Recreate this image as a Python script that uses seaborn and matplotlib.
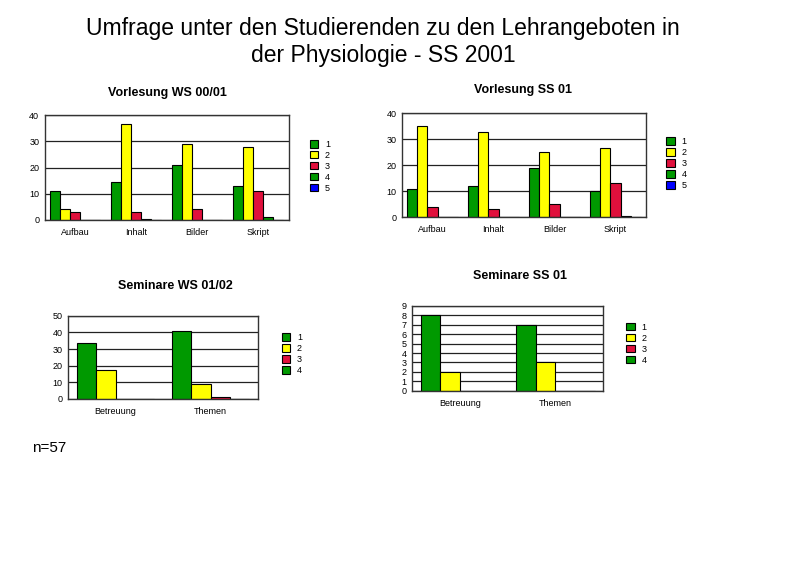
import pandas
import seaborn
from matplotlib import pyplot as plt
from matplotlib.patches import Patch

# Data ------------------------------------------------------------------------------
grades5 = ['1', '2', '3', '4', '5']
grades4 = ['1', '2', '3', '4']

vorl_cats = ['Aufbau', 'Inhalt', 'Bilder', 'Skript']
vorl_ws_1 = [11, 14.5, 21, 13]
vorl_ws_2 = [4, 36.5, 29, 28]
vorl_ws_3 = [3, 3, 4, 11]
vorl_ws_4 = [0, 0.3, 0, 1]
vorl_ws_5 = [0, 0, 0, 0]

vorl_ss_1 = [11, 12, 19, 10]
vorl_ss_2 = [35, 33, 25, 26.5]
vorl_ss_3 = [4, 3, 5, 13]
vorl_ss_4 = [0, 0, 0, 0.3]
vorl_ss_5 = [0, 0, 0, 0]

sem_cats = ['Betreuung', 'Themen']
sem_ws_1 = [33.5, 41]
sem_ws_2 = [17.5, 9]
sem_ws_3 = [0, 1]
sem_ws_4 = [0, 0]

sem_ss_1 = [8, 7]
sem_ss_2 = [2, 3]
sem_ss_3 = [0, 0]
sem_ss_4 = [0, 0]

colors = {'1': '#009900', '2': '#ffff00', '3': '#e0103c', '4': '#009900', '5': '#0000ff'}


def long_df(cats, grades, series):
	rows = []
	for g, vals in zip(grades, series):
		for c, v in zip(cats, vals):
			rows.append({'cat': c, 'grade': g, 'val': v})
	return pandas.DataFrame(rows)


seaborn.set_theme(style='white')
plt.rcParams['font.family'] = ['Liberation Sans', 'DejaVu Sans']
plt.rcParams['text.color'] = 'black'
plt.rcParams['xtick.color'] = 'black'
plt.rcParams['ytick.color'] = 'black'

fig = plt.figure(figsize=(8, 5.64), dpi=100)

fig.text(0.479, 0.9255, 'Umfrage unter den Studierenden zu den Lehrangeboten in\nder Physiologie - SS 2001',
		 ha='center', va='center', fontsize=16.5, linespacing=1.2)
fig.text(0.04, 0.205, 'n=57', fontsize=11, va='center')

panels = [
	([0.056, 0.610, 0.305, 0.186], 'Vorlesung WS 00/01', (0.209, 0.835),
	 long_df(vorl_cats, grades5, [vorl_ws_1, vorl_ws_2, vorl_ws_3, vorl_ws_4, vorl_ws_5]),
	 grades5, vorl_cats, 40, 10, (0.387, 0.752)),
	([0.5025, 0.615, 0.305, 0.184], 'Vorlesung SS 01', (0.654, 0.840),
	 long_df(vorl_cats, grades5, [vorl_ss_1, vorl_ss_2, vorl_ss_3, vorl_ss_4, vorl_ss_5]),
	 grades5, vorl_cats, 40, 10, (0.833, 0.757)),
	([0.085, 0.293, 0.2375, 0.147], 'Seminare WS 01/02', (0.219, 0.493),
	 long_df(sem_cats, grades4, [sem_ws_1, sem_ws_2, sem_ws_3, sem_ws_4]),
	 grades4, sem_cats, 50, 10, (0.352, 0.409)),
	([0.515, 0.307, 0.239, 0.151], 'Seminare SS 01', (0.65, 0.511),
	 long_df(sem_cats, grades4, [sem_ss_1, sem_ss_2, sem_ss_3, sem_ss_4]),
	 grades4, sem_cats, 9, 1, (0.783, 0.428)),
]

for rect, title, tpos, df, grades, cats, ymax, step, lpos in panels:
	ax = fig.add_axes(rect)
	ax.set_axisbelow(True)
	for y in range(0, ymax + 1, step):
		ax.axhline(y, color='#222222', linewidth=0.9, zorder=0)
	seaborn.barplot(data=df, x='cat', y='val', hue='grade', hue_order=grades, order=cats,
					palette=colors, edgecolor='black', linewidth=0.8, width=0.82,
					saturation=1, ax=ax, legend=False)
	ax.set_ylim(0, ymax)
	ax.set_yticks(range(0, ymax + 1, step))
	ax.set_xlabel('')
	ax.set_ylabel('')
	ax.tick_params(axis='y', labelsize=6.5, length=0, pad=4)
	ax.tick_params(axis='x', labelsize=6.5, length=0, pad=6)
	for s in ax.spines.values():
		s.set_color('#333333')
		s.set_linewidth(1)
	fig.text(tpos[0], tpos[1], title, ha='center', va='center', fontsize=9, fontweight='bold')
	handles = [Patch(facecolor=colors[g], edgecolor='black', linewidth=0.8, label=g) for g in grades]
	ax.legend(handles=handles, loc='upper left', bbox_to_anchor=lpos, bbox_transform=fig.transFigure,
			  frameon=False, fontsize=6.5, handlelength=0.9, handleheight=0.9,
			  handletextpad=0.8, labelspacing=0.22, borderaxespad=0, borderpad=0)

fig.savefig('out.png', dpi=100)
